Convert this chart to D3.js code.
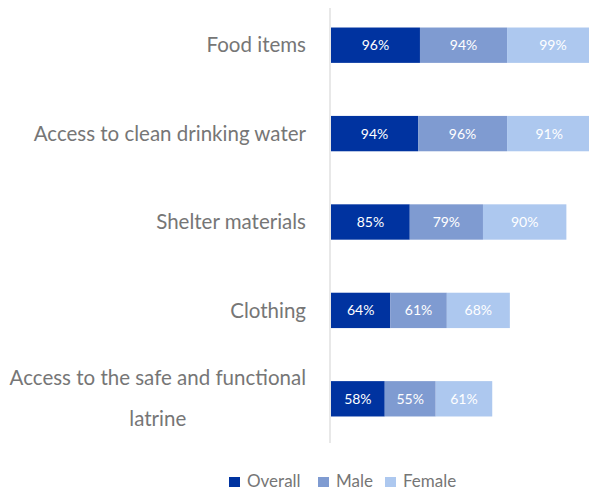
<!DOCTYPE html>
<html>
<head>
<meta charset="utf-8">
<script src="https://cdn.jsdelivr.net/npm/d3@7"></script>
<style>
  html, body { margin: 0; padding: 0; background: #fff; }
  svg { display: block; font-family: Lato, "Open Sans", sans-serif; }
</style>
</head>
<body>
<svg id="chart" width="589" height="487"></svg>
<script>
// Needs reported, by respondent group (percent)
const categories = [
  "Food items",
  "Access to clean drinking water",
  "Shelter materials",
  "Clothing",
  "Access to the safe and functional latrine"
];
const overall = [96, 94, 85, 64, 58];
const male    = [94, 96, 79, 61, 55];
const female  = [99, 91, 90, 68, 61];
const seriesNames = ["Overall", "Male", "Female"];
const seriesColors = ["#0033a0", "#7f9bd1", "#adc8ef"];

const svg = d3.select("#chart");

const x = d3.scaleLinear().domain([0, 300]).range([331, 609]);
const y = d3.scaleBand().domain(categories).range([1, 443])
  .paddingInner(0.6).paddingOuter(0.3);

const rows = categories.map((c, i) => ({
  category: c, Overall: overall[i], Male: male[i], Female: female[i]
}));
const stacked = d3.stack().keys(seriesNames)(rows);

// vertical baseline
svg.append("line")
  .attr("x1", x(0) - 1).attr("x2", x(0) - 1)
  .attr("y1", 8).attr("y2", 443)
  .attr("stroke", "#d9d9d9").attr("stroke-width", 1.2);

const layers = svg.append("g").selectAll("g")
  .data(stacked).join("g")
  .attr("fill", (d, i) => seriesColors[i]);

layers.selectAll("rect")
  .data(d => d)
  .join("rect")
  .attr("x", d => x(d[0]))
  .attr("width", d => x(d[1]) - x(d[0]))
  .attr("y", d => y(d.data.category))
  .attr("height", y.bandwidth());

layers.selectAll("text")
  .data(d => d.map(v => ({ v, key: d.key })))
  .join("text")
  .attr("x", d => (x(d.v[0]) + x(d.v[1])) / 2)
  .attr("y", d => y(d.v.data.category) + y.bandwidth() / 2)
  .attr("dy", "0.35em")
  .attr("text-anchor", "middle")
  .attr("fill", "#ffffff")
  .attr("font-size", 14)
  .text(d => d.v.data[d.key] + "%");

// category labels, wrapped where too long
const labelRight = 306;
const lineGap = 41;
const labelSize = 20.5;
const wrapped = {
  "Access to the safe and functional latrine": ["Access to the safe and functional", "latrine"]
};
const labels = svg.append("g");
categories.forEach(c => {
  const cy = y(c) + y.bandwidth() / 2;
  const lines = wrapped[c];
  if (!lines) {
    labels.append("text")
      .attr("x", labelRight).attr("y", cy).attr("dy", "0.35em")
      .attr("text-anchor", "end")
      .attr("fill", "#767676").attr("font-size", labelSize)
      .text(c);
  } else {
    const t = labels.append("text")
      .attr("fill", "#767676").attr("font-size", labelSize)
      .attr("text-anchor", "middle");
    const tmp = t.append("tspan").text(lines[0]);
    const w = tmp.node().getComputedTextLength();
    tmp.remove();
    const cx = labelRight - w / 2;
    lines.forEach((ln, k) => {
      t.append("tspan")
        .attr("x", cx)
        .attr("y", cy + (k - (lines.length - 1) / 2) * lineGap)
        .attr("dy", "0.35em")
        .text(ln);
    });
  }
});

// legend
const legend = svg.append("g");
const legendX = [229, 318, 385];
seriesNames.forEach((n, i) => {
  legend.append("rect")
    .attr("x", legendX[i]).attr("y", 477)
    .attr("width", 11).attr("height", 11)
    .attr("fill", seriesColors[i]);
  legend.append("text")
    .attr("x", legendX[i] + 18).attr("y", 487)
    .attr("fill", "#767676").attr("font-size", 17)
    .text(n);
});
</script>
</body>
</html>
